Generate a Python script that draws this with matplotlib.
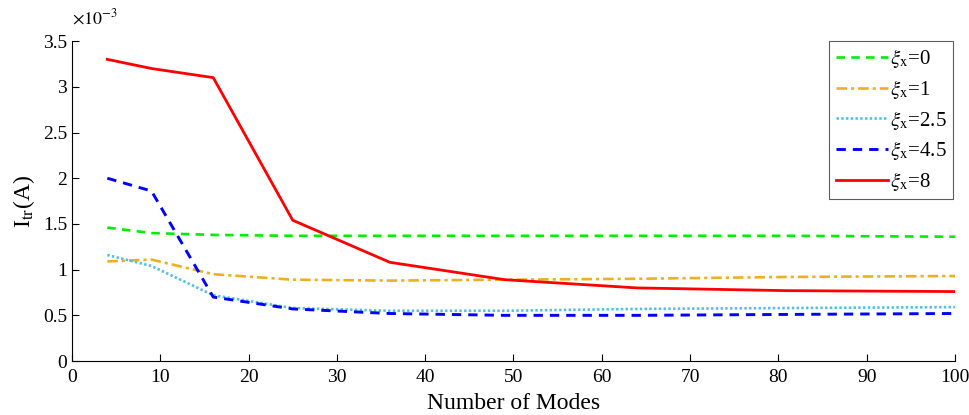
import matplotlib
matplotlib.use("Agg")
import matplotlib.pyplot as plt
from matplotlib.ticker import FuncFormatter, MultipleLocator

plt.rcParams['font.family'] = ['Liberation Serif', 'DejaVu Serif']
plt.rcParams['mathtext.fontset'] = 'stix'

modes = [4, 9, 16, 25, 36, 49, 64, 81, 100]
xi0 = [1.46, 1.40, 1.38, 1.37, 1.37, 1.37, 1.37, 1.37, 1.36]
xi1 = [1.09, 1.11, 0.95, 0.89, 0.88, 0.89, 0.90, 0.92, 0.93]
xi25 = [1.16, 1.04, 0.72, 0.58, 0.55, 0.55, 0.57, 0.58, 0.59]
xi45 = [2.00, 1.86, 0.70, 0.57, 0.52, 0.50, 0.50, 0.51, 0.52]
xi8 = [3.30, 3.20, 3.10, 1.54, 1.08, 0.89, 0.80, 0.77, 0.76]
labels = ['0', '1', '2.5', '4.5', '8']

fig = plt.figure(figsize=(9.69, 4.15), dpi=100)
ax = fig.add_axes([0.0743, 0.130, 0.9112, 0.771])

ax.plot(modes, xi0, color='#00ee00', ls=(0, (3.2, 2.4)), lw=1.9, label=r'$\xi_{\rm x}$=' + labels[0])
ax.plot(modes, xi1, color='#edb120', ls=(0, (4, 1.5, 1.2, 1.5)), lw=1.9, label=r'$\xi_{\rm x}$=' + labels[1])
ax.plot(modes, xi25, color='#4dbeee', ls=(0, (0.9, 0.9)), lw=1.9, label=r'$\xi_{\rm x}$=' + labels[2])
ax.plot(modes, xi45, color='#0000ff', ls=(0, (3.2, 2.4)), lw=2.1, label=r'$\xi_{\rm x}$=' + labels[3])
ax.plot(modes, xi8, color='#ff0000', ls='-', lw=2.0, label=r'$\xi_{\rm x}$=' + labels[4])

ax.set_xlim(0, 100)
ax.set_ylim(0, 3.5)
ax.xaxis.set_major_locator(MultipleLocator(10))
ax.yaxis.set_major_locator(MultipleLocator(0.5))
ax.yaxis.set_major_formatter(FuncFormatter(lambda v, p: '%g' % v))
ax.tick_params(direction='in', length=5, labelsize=14)
ax.tick_params(axis='x', pad=6)
ax.spines['top'].set_visible(False)
ax.spines['right'].set_visible(False)

ax.set_xlabel('Number of Modes', fontsize=17, labelpad=5)
ax.set_ylabel(r'I$_{\rm tr}$(A)', fontsize=17, labelpad=4)
ax.text(0.0, 1.04, r'$\times10^{-3}$', transform=ax.transAxes, fontsize=13, ha='left', va='bottom')

leg = ax.legend(loc='upper right', bbox_to_anchor=(0.9975, 1.0), borderaxespad=0, fontsize=15,
                frameon=True, fancybox=False, edgecolor='#333333', handlelength=2.5,
                handletextpad=0.1, labelspacing=0.37, borderpad=0.3)
leg.get_frame().set_linewidth(0.8)

fig.savefig('out.png', dpi=100)
